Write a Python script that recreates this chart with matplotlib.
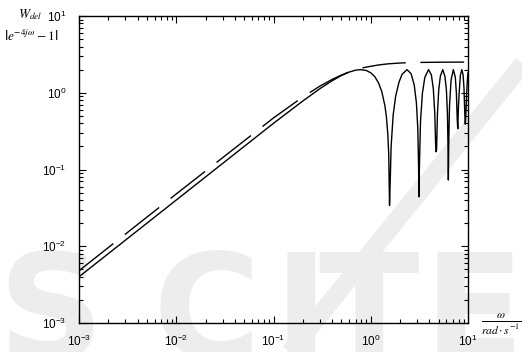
import matplotlib
matplotlib.use('Agg')
import matplotlib.pyplot as plt
from matplotlib.lines import Line2D
from matplotlib.ticker import LogLocator, NullFormatter

# |e^{-4jw} - 1| (solid)
delay_omega = [0.001, 0.01, 0.1, 0.2, 0.3, 0.4, 0.5, 0.6, 0.7, 0.785, 0.9, 1.0, 1.1, 1.2, 1.3, 1.4, 1.45, 1.5, 1.53, 1.56,
               1.59, 1.62, 1.7, 1.8, 1.95, 2.1, 2.36, 2.6, 2.8, 2.95, 3.05, 3.1, 3.13,
               3.17, 3.25, 3.4, 3.6, 3.93, 4.2, 4.4, 4.55, 4.65, 4.7,
               4.75, 4.85, 5.0, 5.2, 5.5, 5.8, 6.0, 6.15, 6.25, 6.28,
               6.33, 6.45, 6.7, 7.07, 7.4, 7.6, 7.75, 7.85,
               7.95, 8.1, 8.35, 8.64, 8.9, 9.1, 9.25, 9.38,
               9.5, 9.7, 9.85, 10.0]
delay_mag = [0.004, 0.04, 0.40, 0.78, 1.13, 1.43, 1.68, 1.86, 1.97, 2.0, 1.95, 1.82, 1.62, 1.35, 1.03, 0.67, 0.48, 0.28, 0.16, 0.034,
             0.08, 0.20, 0.51, 0.89, 1.37, 1.74, 2.0, 1.77, 1.26, 0.73, 0.33, 0.12, 0.044,
             0.12, 0.43, 0.99, 1.59, 2.0, 1.71, 1.13, 0.55, 0.21, 0.17,
             0.18, 0.53, 1.09, 1.65, 2.0, 1.62, 1.07, 0.52, 0.15, 0.073,
             0.2, 0.66, 1.47, 2.0, 1.60, 0.98, 0.45, 0.34,
             0.6, 0.97, 1.69, 2.0, 1.72, 1.13, 0.57, 0.39,
             0.5, 1.0, 1.45, 1.83]

# weight W_del (dashed)
wdel_omega = [0.001, 0.01, 0.1, 0.2, 0.3, 0.4, 0.5, 0.6, 0.7, 0.8, 0.9, 1.0, 1.2, 1.5, 2.0, 3.0, 5.0, 10.0]
wdel_mag = [0.0048, 0.048, 0.47, 0.88, 1.22, 1.49, 1.70, 1.87, 1.99, 2.09, 2.16, 2.21, 2.30, 2.38, 2.44, 2.48, 2.50, 2.51]

# watermark letters and their centres (px from the left)
wm_letters = ['S', 'C', 'I', 'T', 'E']
wm_centres = [50, 207, 301, 368, 474]

plt.rcParams['font.family'] = ['Liberation Sans', 'DejaVu Sans']
plt.rcParams['mathtext.fontset'] = 'custom'
plt.rcParams['mathtext.rm'] = 'Liberation Sans'
plt.rcParams['mathtext.it'] = 'Liberation Sans:italic'

fig = plt.figure(figsize=(5.22, 3.52), dpi=100)
ax = fig.add_axes([79 / 522, 1 - 323 / 352, 389 / 522, 307 / 352])
ax.patch.set_alpha(0)

# watermark behind the plot
wm = '#ededed'
for letter, cx in zip(wm_letters, wm_centres):
    fig.text(cx / 522, -0.02, letter, fontsize=106, fontweight='bold', color=wm,
             family='DejaVu Sans', va='baseline', ha='center', zorder=-2)
fig.add_artist(Line2D([290 / 522, 530 / 522], [1 - 352 / 352, 1 - 55 / 352], lw=13, color=wm,
                      transform=fig.transFigure, zorder=-1, solid_capstyle='butt'))

ax.loglog(delay_omega, delay_mag, color='black', lw=1.0)
dash_line, = ax.loglog(wdel_omega, wdel_mag, color='black', lw=1.0)
dash_line.set_dashes((31.5, 10.5))

ax.set_xlim(1e-3, 1e1)
ax.set_ylim(1e-3, 1e1)

for spine in ax.spines.values():
    spine.set_linewidth(1.0)

ax.xaxis.set_major_locator(LogLocator(base=10, numticks=10))
ax.yaxis.set_major_locator(LogLocator(base=10, numticks=10))
ax.xaxis.set_minor_locator(LogLocator(base=10, subs=range(2, 10), numticks=20))
ax.yaxis.set_minor_locator(LogLocator(base=10, subs=range(2, 10), numticks=20))
ax.xaxis.set_minor_formatter(NullFormatter())
ax.yaxis.set_minor_formatter(NullFormatter())
ax.tick_params(which='both', direction='in', top=True, right=True, labelsize=8.5, width=0.8)
ax.tick_params(which='major', length=5)
ax.tick_params(which='minor', length=3)
ax.tick_params(axis='y', pad=9)
ax.tick_params(axis='x', pad=8)

# axis labels
fig.text(30 / 522, 1 - 15 / 352, r'$W_{del}$', fontsize=9.5, math_fontfamily='stix', ha='center', va='center')
fig.text(31 / 522, 1 - 36 / 352, r'$\left|e^{-4j\omega}-1\right|$', fontsize=9.5, math_fontfamily='stix',
         ha='center', va='center')
fig.text(501 / 522, 1 - 324 / 352, r'$\frac{\omega}{rad\cdot s^{-1}}$', fontsize=12, math_fontfamily='stix',
         ha='center', va='center')

fig.savefig('out.png', dpi=100)
